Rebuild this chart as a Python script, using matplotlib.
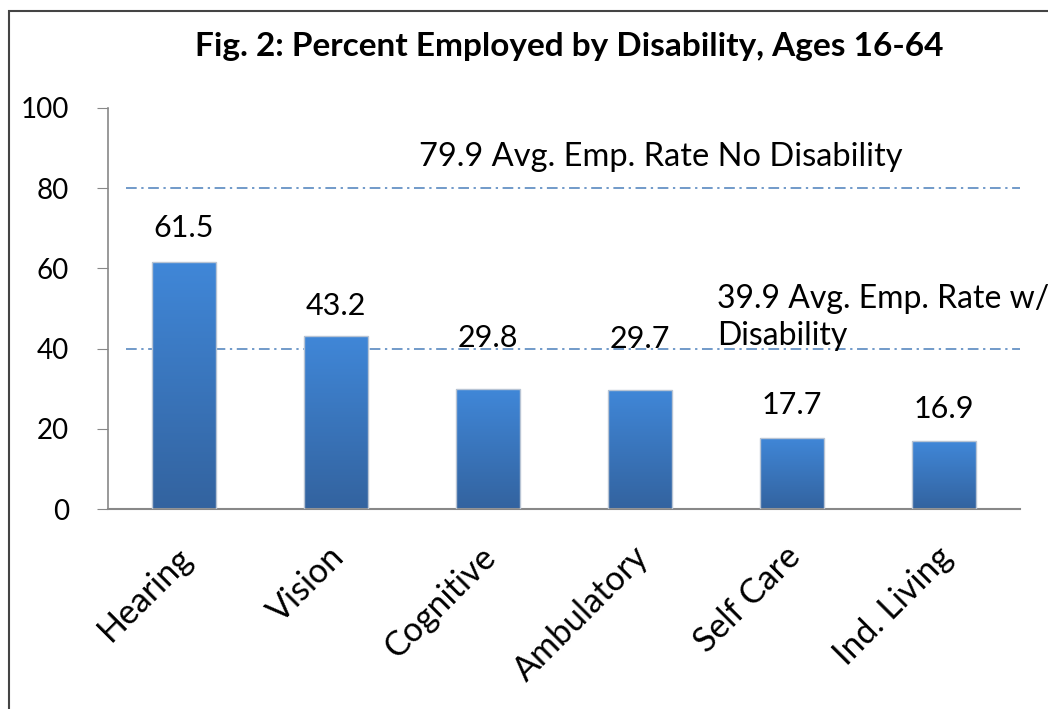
import numpy as np
import matplotlib.pyplot as plt
from matplotlib.patches import Rectangle
from matplotlib.colors import LinearSegmentedColormap
from matplotlib.transforms import ScaledTranslation

plt.rcParams['font.family'] = ['Lato', 'DejaVu Sans']

categories = ['Hearing', 'Vision', 'Cognitive', 'Ambulatory', 'Self Care', 'Ind. Living']
values = [61.5, 43.2, 29.8, 29.7, 17.7, 16.9]
avg_no_dis = 79.9
avg_dis = 39.9

# how far above the bar each value label sits (Excel nudged two of them up)
label_lift = [8.5, 7.5, 12.8, 12.8, 8.2, 8.0]

fig = plt.figure(figsize=(10.48, 7.09), dpi=100)
ax = fig.add_axes([0.103, 0.282, 0.870, 0.566])

# outer frame (cropped on right/bottom like the original)
fig.patches.append(Rectangle((9 / 1048, -0.1), 1.2, 1 - 11 / 709 + 0.1,
                             transform=fig.transFigure, fill=False,
                             edgecolor='#444444', lw=1.5))

x = np.arange(len(categories))
bars = ax.bar(x, values, width=0.42, color='none', edgecolor='#b8c4d4', lw=1, zorder=3)

# vertical gradient in each bar
grad = np.linspace(0, 1, 256).reshape(-1, 1)
cmap = LinearSegmentedColormap.from_list('bar', ['#33639f', '#4087d8'])
for b in bars:
    x0, w, h = b.get_x(), b.get_width(), b.get_height()
    im = ax.imshow(grad, cmap=cmap, aspect='auto', extent=(x0, x0 + w, 0, h),
                   origin='lower', zorder=2)
    im.set_clip_path(b)

for xi, v, lift in zip(x, values, label_lift):
    ax.text(xi, v + lift, f'{v}', ha='center', va='center', fontsize=22, zorder=4)

line_kw = dict(color='#4a7ebb', lw=1.1, linestyle=(0, (7, 3, 1.5, 3)), xmin=0.02, xmax=1.0, zorder=1)
ax.axhline(avg_no_dis, **line_kw)
ax.axhline(avg_dis, **line_kw)

ax.text(1.55, 87.8, f'{avg_no_dis} Avg. Emp. Rate No Disability', fontsize=23.5, va='center')
ax.text(3.51, 47.7, f'{avg_dis} Avg. Emp. Rate w/\nDisability', fontsize=23, va='center',
        linespacing=1.27, zorder=4)

ax.set_xlim(-0.5, 5.5)
ax.set_ylim(0, 100)
ax.set_yticks([0, 20, 40, 60, 80, 100])
ax.tick_params(axis='y', labelsize=20, length=8, color='#888888', pad=20)
ax.set_xticks(x)
ax.set_xticklabels(categories, rotation=45, ha='right', rotation_mode='anchor', fontsize=24.5)
ax.tick_params(axis='x', length=0, pad=22)
shift = ScaledTranslation(-8 / 100, -1 / 100, fig.dpi_scale_trans)
for lbl in ax.get_xticklabels():
    lbl.set_transform(lbl.get_transform() + shift)

for s in ['top', 'right']:
    ax.spines[s].set_visible(False)
ax.spines['left'].set_color('#888888')
ax.spines['bottom'].set_color('#888888')
ax.spines['left'].set_linewidth(1.2)
ax.spines['bottom'].set_linewidth(1.5)

fig.text(0.543, 0.934, 'Fig. 2: Percent Employed by Disability, Ages 16-64',
         ha='center', va='center', fontsize=24, fontweight='bold')

fig.savefig('out.png', dpi=100)
